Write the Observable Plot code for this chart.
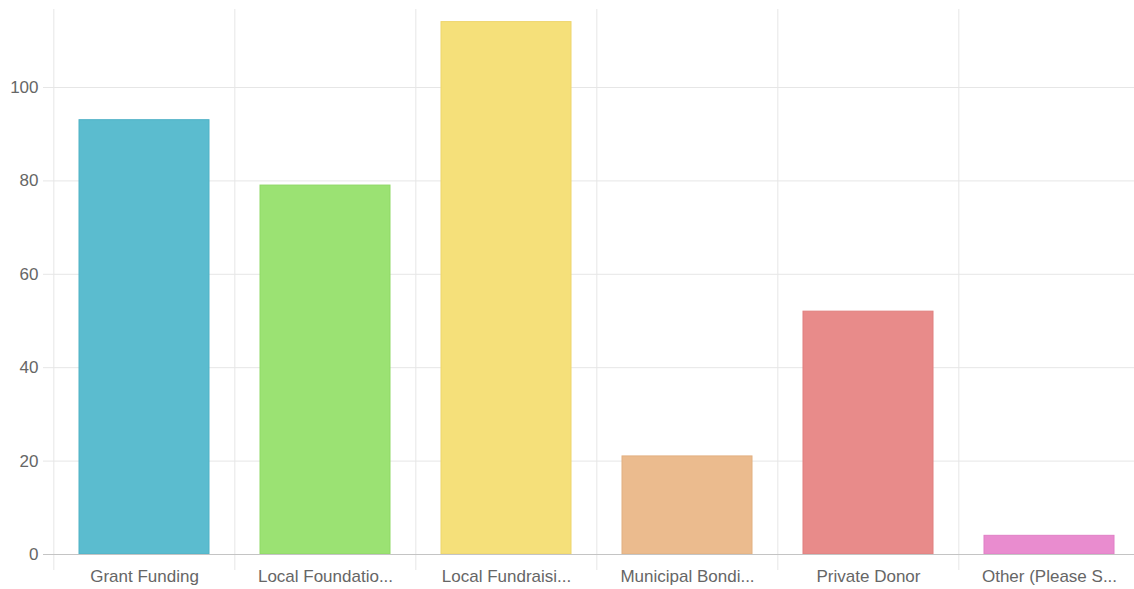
<!DOCTYPE html>
<html>
<head>
<meta charset="utf-8">
<script src="https://cdn.jsdelivr.net/npm/d3@7"></script>
<script src="https://cdn.jsdelivr.net/npm/@observablehq/plot@0.6"></script>
<style>
  html, body { margin: 0; padding: 0; background: #fff; overflow: hidden; }
  #chart { width: 1134px; height: 589px; overflow: hidden; }
  #chart svg { max-width: none !important; }
</style>
</head>
<body>
<div id="chart"></div>
<script>
const categories = ["Grant Funding", "Local Foundation", "Local Fundraising", "Municipal Bonding", "Private Donor", "Other (Please Specify)"];
const tickLabels = ["Grant Funding", "Local Foundatio...", "Local Fundraisi...", "Municipal Bondi...", "Private Donor", "Other (Please S..."];
const values = [93, 79, 114, 21, 52, 4];
const fillColors = ["#5bbccf", "#9be273", "#f5e07a", "#ebbb8e", "#e88b8a", "#e98ccf"];
const strokeColors = ["#4fb2c6", "#8fd966", "#eed56c", "#e2b080", "#e07f7e", "#e07fc6"];
const yTicks = [0, 20, 40, 60, 80, 100];
const yMax = 116.7;

const data = categories.map((c, i) => ({category: c, value: values[i], fill: fillColors[i], stroke: strokeColors[i]}));

const width = 1142, marginLeft = 53, marginRight = 1;
const step = (width - marginLeft - marginRight) / categories.length;

const chart = Plot.plot({
  width,
  height: 589,
  marginLeft,
  marginRight,
  marginTop: 9,
  marginBottom: 35,
  style: {fontFamily: "'Liberation Sans', Arial, sans-serif", fontSize: "17px", color: "#666", background: "#fff", maxWidth: "none"},
  x: {domain: categories, paddingInner: 0.28, paddingOuter: 0.14, axis: null, label: null},
  y: {domain: [0, yMax], axis: null, label: null},
  marks: [
    Plot.ruleY(yTicks.filter(d => d > 0), {y: d => d, stroke: "#e6e6e6", strokeWidth: 1, insetLeft: -10}),
    Plot.ruleX(categories, {x: d => d, dx: -step / 2, stroke: "#e6e6e6", strokeWidth: 1, insetBottom: -16}),
    Plot.ruleX(categories.slice(-1), {x: d => d, dx: step / 2, stroke: "#e6e6e6", strokeWidth: 1, insetBottom: -16}),
    Plot.barY(data, {x: "category", y: "value", fill: "fill", stroke: "stroke", strokeWidth: 1}),
    Plot.ruleY([0], {stroke: "#c4c4c4", strokeWidth: 1, insetLeft: -10}),
    Plot.axisY(yTicks, {tickSize: 0, tickPadding: 15, fill: "#666", fontSize: 17, label: null}),
    Plot.axisX({tickSize: 0, tickPadding: 15, fill: "#666", fontSize: 17, label: null, tickFormat: d => tickLabels[categories.indexOf(d)]})
  ]
});
chart.style.maxWidth = "none";
document.getElementById("chart").appendChild(chart);
</script>
</body>
</html>
